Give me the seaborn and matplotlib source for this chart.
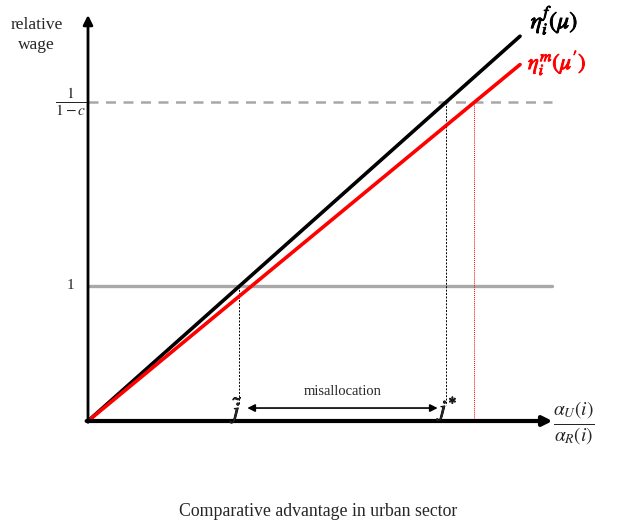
import numpy as np
import pandas as pd
import matplotlib
matplotlib.use("Agg")
import matplotlib.pyplot as plt
import matplotlib.patheffects as pe
import seaborn as sns

# ------------------------------------------------------------
# data
# ------------------------------------------------------------
x_end = [0.0, 3.2]
wage_f = [0.0, 2.85]      # eta_i^f(mu)
wage_m = [0.0, 2.64]      # eta_i^m(mu')
level_one = 1.0
level_top = 2.36          # 1/(1-c)
j_tilde = 1.12
j_star = 2.65
j_red = 2.86
hline_end = 3.44
series = ["f", "m"]

sns.set_style("white")
plt.rcParams["font.family"] = ["Liberation Serif", "DejaVu Serif"]
plt.rcParams["mathtext.fontset"] = "stix"

df = pd.DataFrame({
    "x": x_end + x_end,
    "wage": wage_f + wage_m,
    "who": [series[0]] * 2 + [series[1]] * 2,
})

fig = plt.figure(figsize=(6.17, 5.31), dpi=100)
ax = fig.add_axes([88 / 617, 110 / 531, (560 - 88) / 617, (421 - 15) / 531])
ax.axis("off")

# reference levels
ax.plot([0, hline_end], [level_one, level_one], color="#a8a8a8", lw=2.4, zorder=1)
ax.plot([0, hline_end], [level_top, level_top], color="#a8a8a8", lw=1.8,
        dashes=(4, 3), zorder=1)

# wage lines
sns.lineplot(data=df, x="x", y="wage", hue="who",
             palette={"f": "black", "m": "red"}, lw=2.6, legend=False,
             ax=ax, zorder=3)
ax.set_xlim(0, 3.496)
ax.set_ylim(0, 3.007)

# drop lines
ax.plot([j_tilde, j_tilde], [level_one, 0.12], color="black", lw=0.7,
        dashes=(2, 1.5), zorder=2)
ax.plot([j_star, j_star], [level_top, 0.12], color="black", lw=0.7,
        dashes=(2, 1.5), zorder=2)
ax.plot([j_red, j_red], [level_top, 0], color="red", lw=0.7,
        dashes=(1, 1), zorder=2)

# axes with arrows
ax.annotate("", xy=(0, 3.007), xytext=(0, -0.01),
            arrowprops=dict(arrowstyle="-|>", lw=2, color="black",
                            mutation_scale=14, shrinkA=0, shrinkB=0),
            annotation_clip=False)
ax.annotate("", xy=(3.44, 0), xytext=(-0.01, 0),
            arrowprops=dict(arrowstyle="-|>", lw=3, color="black",
                            mutation_scale=14, shrinkA=0, shrinkB=0),
            annotation_clip=False)

# misallocation arrow
ax.annotate("", xy=(j_tilde + 0.06, 0.096), xytext=(j_star - 0.06, 0.096),
            arrowprops=dict(arrowstyle="<|-|>", lw=1.2, color="black",
                            mutation_scale=11, shrinkA=0, shrinkB=0))
ax.text((j_tilde + j_star) / 2, 0.17, "misallocation", ha="center",
        va="bottom", fontsize=10.5)
bold = [pe.withStroke(linewidth=0.6, foreground="black")]
ax.text(j_tilde, 0.08, r"$\tilde{j}$", ha="center", va="center", fontsize=17,
        path_effects=bold)
ax.text(j_star + 0.03, 0.09, r"$j^{*}$", ha="center", va="center",
        fontsize=17, path_effects=bold)

# y labels
ax.text(-0.38, 2.86, "relative\nwage", ha="center", va="center",
        fontsize=12.5, linespacing=1.35)
ax.text(-0.13, level_one, "1", ha="center", va="center", fontsize=11)
ax.text(-0.13, level_top, r"$\frac{1}{1-c}$", ha="center", va="center",
        fontsize=16)

# series labels
ax.text(3.28, 2.97, r"$\eta_i^f(\mu)$", ha="left", va="center",
        fontsize=17, color="black",
        path_effects=[pe.withStroke(linewidth=0.7, foreground="black")])
ax.text(3.26, 2.65, r"$\eta_i^m(\mu')$", ha="left", va="center",
        fontsize=16, color="red",
        path_effects=[pe.withStroke(linewidth=0.7, foreground="red")])

# x label
ax.text(3.6, -0.015, r"$\frac{\alpha_U(i)}{\alpha_R(i)}$", ha="center",
        va="center", fontsize=20)

fig.text(318 / 617, 1 - 512 / 531, "Comparative advantage in urban sector",
         ha="center", va="center", fontsize=12.8)

plt.savefig("out.png", dpi=100)
